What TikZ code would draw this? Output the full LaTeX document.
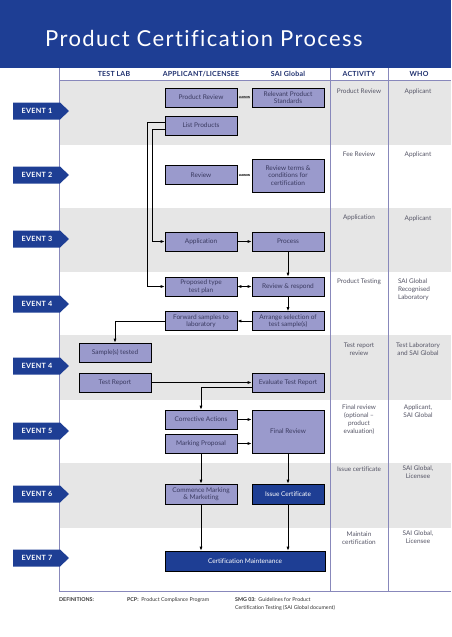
\documentclass[tikz,border=0pt]{standalone}
\usepackage{fontspec}
\setmainfont{Lato}[Ligatures=NoCommon]
\usetikzlibrary{arrows.meta}
\definecolor{hdrblue}{HTML}{1E3E94}
\definecolor{boxc}{HTML}{9A9ACC}
\definecolor{bandc}{HTML}{E6E6E6}
\definecolor{linec}{HTML}{8888BB}
\definecolor{txtc}{HTML}{3A3A60}
\definecolor{acttxt}{HTML}{555566}
\definecolor{navytxt}{HTML}{1E2F6E}
\tikzset{
  box/.style={draw=black, line width=0.7pt, fill=boxc, minimum width=72pt, minimum height=19pt,
    inner sep=1pt, align=center, text=txtc, font=\fontsize{6.5}{7.5}\selectfont},
  darkbox/.style={box, fill=hdrblue, text=white},
  arr/.style={draw=black, line width=0.7pt, -{Latex[length=4pt,width=3pt]}},
  arrboth/.style={draw=black, line width=0.7pt, {Latex[length=4pt,width=3pt]}-{Latex[length=4pt,width=3pt]}},
  colhdr/.style={font=\bfseries\fontsize{7}{8}\selectfont\addfontfeatures{LetterSpace=3}, text=navytxt, inner sep=0pt},
  acttext/.style={anchor=north, inner sep=0pt, align=center, text=acttxt, font=\fontsize{6.4}{8}\selectfont},
  evtag/.style={fill=hdrblue},
  evtext/.style={text=white, font=\bfseries\fontsize{7.2}{8}\selectfont\addfontfeatures{LetterSpace=4}, inner sep=0pt},
  liaison/.style={inner sep=0.4pt, font=\bfseries\fontsize{2.8}{3.2}\selectfont, text=black, fill=black!20},
  grid/.style={draw=linec, line width=0.8pt},
  foot/.style={anchor=north west, inner sep=0pt, align=left, text=black!80, font=\fontsize{5.3}{8}\selectfont}
}
\begin{document}
\begin{tikzpicture}[x=1pt,y=-1pt]
\useasboundingbox (0,0) rectangle (451,637);
\fill[white] (0,0) rectangle (451,637);
% header band
\fill[hdrblue] (0,0) rectangle (451,68);
\node[anchor=base west, inner sep=0pt, text=white, font=\fontsize{22}{24}\selectfont\addfontfeatures{LetterSpace=6.4}] (title) at (45,46) {Product Certification Process};
% gray bands
\fill[bandc] (59,80) rectangle (451,145);
\fill[bandc] (59,208) rectangle (451,272);
\fill[bandc] (59,335) rectangle (451,400);
\fill[bandc] (59,463) rectangle (451,528);
% grid lines
\draw[grid] (59,68) -- (59,591);
\draw[grid] (330,68) -- (330,591);
\draw[grid] (388,68) -- (388,591);
\draw[grid] (59,80) -- (451,80);
\draw[grid] (59,591) -- (451,591);
% column headers
\node[colhdr] (h1) at (114,74) {TEST LAB};
\node[colhdr] (h2) at (201,74) {APPLICANT/LICENSEE};
\node[colhdr] (h3) at (288,74) {SAI Global};
\node[colhdr] (h4) at (359,74) {ACTIVITY};
\node[colhdr] (h5) at (419,74) {WHO};
% event tags
\foreach \y/\t/\n in {111/1/e1,175/2/e2,239/3/e3,304/4/e4,366/4/e4b,431/5/e5,494/6/e6,558/7/e7}{
  \fill[evtag] (13,\y-8.5) -- (60,\y-8.5) -- (69,\y) -- (60,\y+8.5) -- (13,\y+8.5) -- cycle;
  \node[evtext] (\n) at (37,\y) {EVENT \t};
}
% boxes
\node[box] (pr) at (201,97.5) {Product Review};
\node[box] (rps) at (288,97.5) {Relevant Product\\Standards};
\node[box] (lp) at (201,125.5) {List Products};
\node[box] (rv) at (201,175) {Review};
\node[box, minimum height=33pt] (rtc) at (288,175.5) {Review terms \&\\conditions for\\certification};
\node[box] (app) at (201,241.5) {Application};
\node[box] (proc) at (288,241.5) {Process};
\node[box] (ptp) at (201,286.5) {Proposed type\\test plan};
\node[box] (rr) at (288,286.5) {Review \& respond};
\node[box] (fsl) at (201,321) {Forward samples to\\laboratory};
\node[box] (ats) at (288,321) {Arrange selection of\\test sample(s)};
\node[box] (st) at (115,352.5) {Sample(s) tested};
\node[box] (tr) at (115,382.5) {Test Report};
\node[box] (etr) at (288,382.5) {Evaluate Test Report};
\node[box] (ca) at (201,419.5) {Corrective Actions};
\node[box] (mp) at (201,443.5) {Marking Proposal};
\node[box, minimum height=43pt] (fr) at (288,431.5) {Final Review};
\node[box, minimum height=20pt] (cmm) at (201,494) {Commence Marking\\\& Marketing};
\node[darkbox, minimum height=20pt] (ic) at (288,494) {Issue Certificate};
\node[darkbox, minimum height=20pt, minimum width=160pt] (cm) at (245,561) {Certification Maintenance};
% liaison tags
\node[liaison] (l1) at (244.5,97.5) {LIAISON};
\node[liaison] (l2) at (244.5,175) {LIAISON};
% connectors
\draw[arr] ([yshift=3.5pt]lp.west) -- ++(-17,0) |- (ptp.west);
\draw[arr] ([yshift=-3.5pt]lp.west) -- ++(-12,0) |- (app.west);
\draw[arr] (app) -- (proc);
\draw[arr] (proc) -- (rr);
\draw[arrboth] (ptp) -- (rr);
\draw[arr] (rr) -- (ats);
\draw[arr] (ats) -- (fsl);
\draw[arr] (fsl.west) -| (st.north);
\draw[arr] (tr.east) -- (etr.west);
\draw[arr] ([yshift=-4.5pt]etr.west) -| (ca.north);
\draw[arr] (ca.east) -- (ca.east -| fr.west);
\draw[arr] (mp.east) -- (mp.east -| fr.west);
\draw[arr] (mp.south) -- (cmm.north);
\draw[arr] (fr.south) -- (ic.north);
\draw[arr] (cmm.south) -- (cmm.south |- cm.north);
\draw[arr] (ic.south) -- (ic.south |- cm.north);
% activity column
\node[acttext] (a1) at (359,89) {Product Review};
\node[acttext] (a2) at (359,152) {Fee Review};
\node[acttext] (a3) at (359,215) {Application};
\node[acttext] (a4) at (359,279) {Product Testing};
\node[acttext] (a5) at (359,343) {Test report\\review};
\node[acttext] (a6) at (359,405) {Final review\\(optional –\\product\\evaluation)};
\node[acttext] (a7) at (359,467) {Issue certificate};
\node[acttext] (a8) at (359,532) {Maintain\\certification};
% who column
\node[acttext] (w1) at (418,89) {Applicant};
\node[acttext] (w2) at (418,152) {Applicant};
\node[acttext] (w3) at (418,216) {Applicant};
\node[acttext, align=left] (w4) at (414,279) {SAI Global\\Recognised\\Laboratory};
\node[acttext] (w5) at (418,343) {Test Laboratory\\and SAI Global};
\node[acttext] (w6) at (418,405) {Applicant,\\SAI Global};
\node[acttext] (w7) at (418,466) {SAI Global,\\Licensee};
\node[acttext] (w8) at (418,531) {SAI Global,\\Licensee};
% footer
\node[foot] (d1) at (59,597) {\textbf{DEFINITIONS:}};
\node[foot] (d2) at (127,597) {\textbf{PCP:}\ \ Product Compliance Program};
\node[foot] (d3) at (235,597) {\textbf{SMG 03:}\ \ Guidelines for Product\\Certification Testing (SAI Global document)};
\end{tikzpicture}
\end{document}
